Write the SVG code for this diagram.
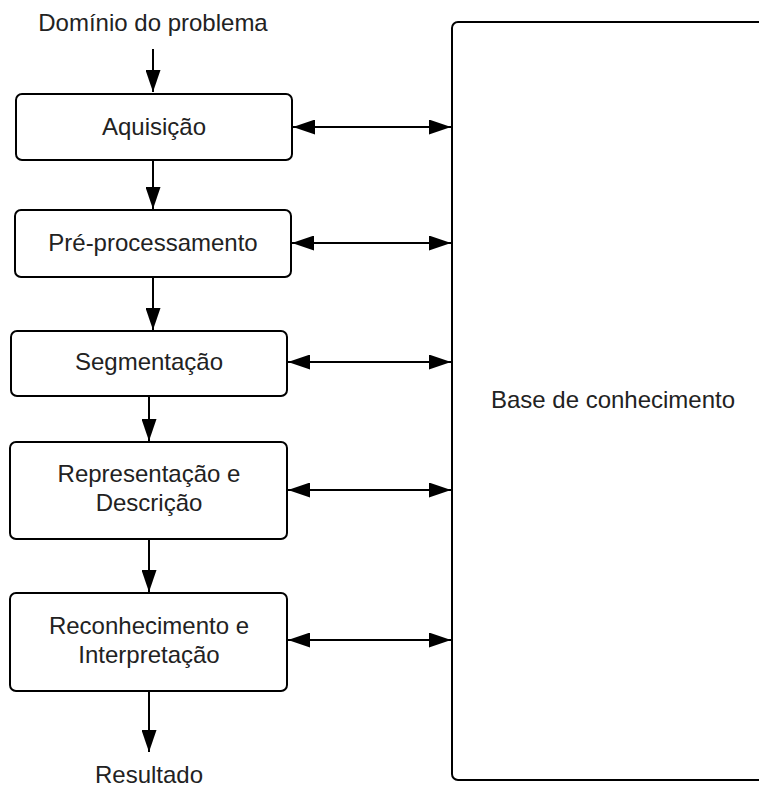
<svg xmlns="http://www.w3.org/2000/svg" width="759" height="787" viewBox="0 0 759 787">
<defs>
<style>
.box{fill:#fff;stroke:#000;stroke-width:2}
.t{font-family:"Liberation Sans",Arial,sans-serif;font-size:24px;fill:#222;text-anchor:middle}
.c{stroke:#000;stroke-width:2;fill:none}
</style>
<marker id="ah" viewBox="0 0 22 15" refX="22" refY="7.5" markerWidth="22" markerHeight="15" markerUnits="userSpaceOnUse" orient="auto-start-reverse">
<path d="M0,0 L22,7.5 L0,15 Z" fill="#000"/>
</marker>
</defs>
<rect width="759" height="787" fill="#fff"/>
<g id="connectors">
<line class="c" x1="153" y1="49" x2="153" y2="92" marker-end="url(#ah)"/>
<line class="c" x1="153" y1="161" x2="153" y2="209" marker-end="url(#ah)"/>
<line class="c" x1="153" y1="277" x2="153" y2="330" marker-end="url(#ah)"/>
<line class="c" x1="149" y1="396" x2="149" y2="441" marker-end="url(#ah)"/>
<line class="c" x1="149" y1="539" x2="149" y2="592" marker-end="url(#ah)"/>
<line class="c" x1="149" y1="691" x2="149" y2="752" marker-end="url(#ah)"/>
<line class="c" x1="293" y1="127" x2="451" y2="127" marker-start="url(#ah)" marker-end="url(#ah)"/>
<line class="c" x1="292" y1="243" x2="451" y2="243" marker-start="url(#ah)" marker-end="url(#ah)"/>
<line class="c" x1="288" y1="362" x2="451" y2="362" marker-start="url(#ah)" marker-end="url(#ah)"/>
<line class="c" x1="288" y1="490" x2="451" y2="490" marker-start="url(#ah)" marker-end="url(#ah)"/>
<line class="c" x1="288" y1="640" x2="451" y2="640" marker-start="url(#ah)" marker-end="url(#ah)"/>
</g>
<g id="dominio"><text class="t" x="153" y="31">Domínio do problema</text></g>
<g id="aquisicao"><rect class="box" x="16" y="94" width="276" height="66" rx="6"/><text class="t" x="154" y="135">Aquisição</text></g>
<g id="preproc"><rect class="box" x="15" y="210" width="276" height="67" rx="6"/><text class="t" x="153" y="251">Pré-processamento</text></g>
<g id="segmentacao"><rect class="box" x="11" y="331" width="276" height="65" rx="6"/><text class="t" x="149" y="370">Segmentação</text></g>
<g id="representacao"><rect class="box" x="10" y="442" width="277" height="97" rx="6"/><text class="t" x="149" y="482">Representação e</text><text class="t" x="149" y="511">Descrição</text></g>
<g id="reconhecimento"><rect class="box" x="10" y="593" width="277" height="98" rx="6"/><text class="t" x="149" y="634">Reconhecimento e</text><text class="t" x="149" y="663">Interpretação</text></g>
<g id="resultado"><text class="t" x="149" y="783">Resultado</text></g>
<g id="base"><rect class="box" x="452" y="22" width="360" height="758" rx="6"/><text class="t" x="613" y="408">Base de conhecimento</text></g>
</svg>
